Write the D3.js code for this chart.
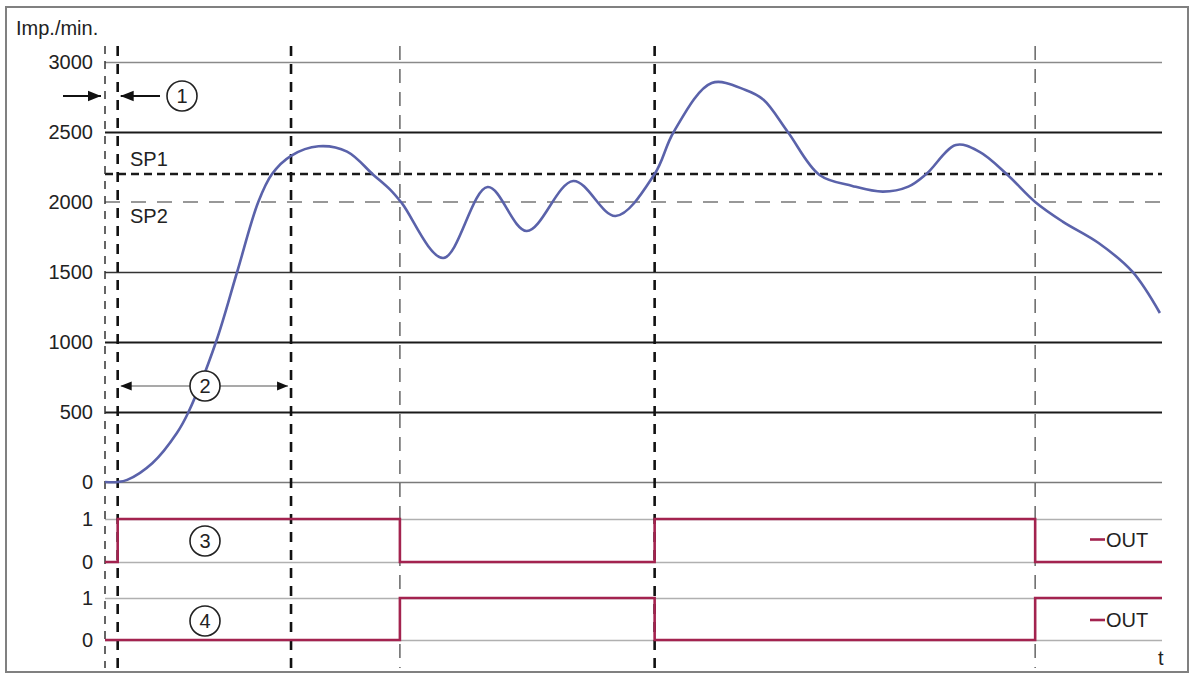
<!DOCTYPE html>
<html>
<head>
<meta charset="utf-8">
<script src="https://cdn.jsdelivr.net/npm/d3@7"></script>
<style>
    body { margin: 0; background: #fff; }
    text { font-family: "Liberation Sans", Arial, sans-serif; font-size: 20px; fill: #222; }
</style>
</head>
<body>
<svg id="chart" width="1193" height="676"></svg>
<script>
// speed curve (time in arbitrary units 0..100, impulses per minute)
const speedTime = [0, 1.2, 2.1, 4.5, 6.8, 7.9, 10.5, 12.5, 14.5, 15.8, 17.6, 20.2, 22.9, 25.4, 27.0, 28.1, 32.0,
    36.2, 39.9, 44.3, 48.3, 52.0, 53.8, 57.4, 60.6, 62.3, 64.6, 67.6, 70.7, 73.6, 76.0, 77.7, 80.5,
    82.7, 85.3, 88.0, 90.6, 94.0, 97.2, 99.8];
const speedValues = [0, 0, 15, 136, 350, 500, 1000, 1500, 2000, 2200, 2330, 2398, 2360, 2193, 2086, 1990, 1600,
    2107, 1793, 2150, 1900, 2200, 2500, 2850, 2800, 2730, 2500, 2193, 2115, 2074, 2110, 2200, 2407,
    2360, 2200, 2000, 1860, 1707, 1502, 1207];

const speedTicks = [0, 500, 1000, 1500, 2000, 2500, 3000];
const setpoints = [2200, 2000];
const setpointLabels = ["SP1", "SP2"];

const thickMarkers = [1.2, 17.6, 52.0];
const thinMarkers = [0, 27.9, 88.0];

// digital outputs: time of each edge and the state after it
const out3Time = [0, 1.2, 27.9, 52.0, 88.0, 100];
const out3State = [0, 1, 0, 1, 0, 0];
const out4Time = [0, 27.9, 52.0, 88.0, 100];
const out4State = [0, 1, 0, 1, 1];

const svg = d3.select("#chart");

const x = d3.scaleLinear().domain([0, 100]).range([105, 1162]);
const y = d3.scaleLinear().domain([0, 3000]).range([482, 62]);
const y3 = d3.scaleLinear().domain([0, 1]).range([562, 519]);
const y4 = d3.scaleLinear().domain([0, 1]).range([640, 598]);

const GRID_STYLE = {
    0: { stroke: "#7a7a7a", width: 1.6 },
    500: { stroke: "#1a1a1a", width: 2.2 },
    1000: { stroke: "#1a1a1a", width: 2.2 },
    1500: { stroke: "#333", width: 1.6 },
    2000: { stroke: "none", width: 0 },
    2500: { stroke: "#1a1a1a", width: 2.2 },
    3000: { stroke: "#8a8a8a", width: 1.6 }
};

const defs = svg.append("defs");
const addArrow = (id, size) => defs.append("marker")
    .attr("id", id)
    .attr("viewBox", "0 0 10 10")
    .attr("refX", 10)
    .attr("refY", 5)
    .attr("markerUnits", "userSpaceOnUse")
    .attr("markerWidth", size)
    .attr("markerHeight", size)
    .attr("orient", "auto-start-reverse")
    .append("path")
    .attr("d", "M0,1 L10,5 L0,9 Z")
    .attr("fill", "#111");
addArrow("arrow", 13);
addArrow("arrowSmall", 11);

// frame
svg.append("rect")
    .attr("x", 6).attr("y", 7)
    .attr("width", 1182).attr("height", 665)
    .attr("fill", "none")
    .attr("stroke", "#808080")
    .attr("stroke-width", 2);

// speed axis + gridlines
const yAxis = svg.append("g")
    .attr("transform", `translate(${ x(0) },0)`)
    .call(d3.axisLeft(y)
        .tickValues(speedTicks)
        .tickSizeInner(-(x.range()[1] - x.range()[0]))
        .tickSizeOuter(0)
        .tickPadding(12)
        .tickFormat(d3.format("d")));
yAxis.select(".domain").remove();
yAxis.selectAll(".tick line")
    .attr("stroke", d => GRID_STYLE[d].stroke)
    .attr("stroke-width", d => GRID_STYLE[d].width);
yAxis.selectAll(".tick text")
    .attr("font-size", null)
    .attr("font-family", null);

// digital panels
const drawBinaryAxis = (scale) => {
    const g = svg.append("g")
        .attr("transform", `translate(${ x(0) },0)`)
        .call(d3.axisLeft(scale)
            .tickValues([0, 1])
            .tickSizeInner(-(x.range()[1] - x.range()[0]))
            .tickSizeOuter(0)
            .tickPadding(12)
            .tickFormat(d3.format("d")));
    g.select(".domain").remove();
    g.selectAll(".tick line").attr("stroke", "#b0b0b0").attr("stroke-width", 1.3);
    g.selectAll(".tick text").attr("font-size", null).attr("font-family", null);
};
drawBinaryAxis(y3);
drawBinaryAxis(y4);

// setpoint lines
svg.append("line")
    .attr("x1", x(0)).attr("x2", x(100))
    .attr("y1", y(setpoints[0])).attr("y2", y(setpoints[0]))
    .attr("stroke", "#1a1a1a").attr("stroke-width", 2.6)
    .attr("stroke-dasharray", "8,5");
svg.append("line")
    .attr("x1", x(0)).attr("x2", x(100))
    .attr("y1", y(setpoints[1])).attr("y2", y(setpoints[1]))
    .attr("stroke", "#777").attr("stroke-width", 1.6)
    .attr("stroke-dasharray", "15,11");
svg.append("text").attr("x", 130).attr("y", y(setpoints[0]) - 8).text(setpointLabels[0]);
svg.append("text").attr("x", 130).attr("y", y(setpoints[1]) + 21).text(setpointLabels[1]);

// time markers
svg.selectAll(".marker-thin")
    .data(thinMarkers)
    .join("line")
    .attr("class", "marker-thin")
    .attr("x1", d => x(d)).attr("x2", d => x(d))
    .attr("y1", 46).attr("y2", 668)
    .attr("stroke", (d, i) => i === 0 ? "#333" : "#666")
    .attr("stroke-width", 1.5)
    .attr("stroke-dasharray", (d, i) => i === 0 ? "8,7" : "14,9");
svg.selectAll(".marker-thick")
    .data(thickMarkers)
    .join("line")
    .attr("class", "marker-thick")
    .attr("x1", d => x(d)).attr("x2", d => x(d))
    .attr("y1", 46).attr("y2", 668)
    .attr("stroke", "#111")
    .attr("stroke-width", 2.6)
    .attr("stroke-dasharray", "10,8");

// speed curve
const speedLine = d3.line()
    .x((d, i) => x(speedTime[i]))
    .y(d => y(d))
    .curve(d3.curveCatmullRom.alpha(0.5));
svg.append("path")
    .attr("d", speedLine(speedValues))
    .attr("fill", "none")
    .attr("stroke", "#5a62aa")
    .attr("stroke-width", 2.6);

// digital outputs
const drawSignal = (times, states, scale) => svg.append("path")
    .attr("d", d3.line()
        .x((d, i) => x(times[i]))
        .y(d => scale(d))
        .curve(d3.curveStepAfter)(states))
    .attr("fill", "none")
    .attr("stroke", "#a3234f")
    .attr("stroke-width", 2.6);
drawSignal(out3Time, out3State, y3);
drawSignal(out4Time, out4State, y4);

// legends
const drawOutLabel = (yPos) => {
    svg.append("line")
        .attr("x1", 1090).attr("x2", 1105)
        .attr("y1", yPos).attr("y2", yPos)
        .attr("stroke", "#a3234f").attr("stroke-width", 2.6);
    svg.append("text").attr("x", 1106).attr("y", yPos + 7).text("OUT");
};
drawOutLabel((y3(0) + y3(1)) / 2 - 1);
drawOutLabel((y4(0) + y4(1)) / 2 + 1);

svg.append("text").attr("x", 16).attr("y", 35).text("Imp./min.");
svg.append("text").attr("x", 1158).attr("y", 665).text("t");

// callouts
const callout = (cx, cy, label) => {
    svg.append("circle")
        .attr("cx", cx).attr("cy", cy).attr("r", 15)
        .attr("fill", "#fff").attr("stroke", "#222").attr("stroke-width", 1.6);
    svg.append("text")
        .attr("x", cx).attr("y", cy + 7)
        .attr("text-anchor", "middle")
        .text(label);
};

svg.append("line")
    .attr("x1", 63).attr("x2", x(0) - 4)
    .attr("y1", 96).attr("y2", 96)
    .attr("stroke", "#111").attr("stroke-width", 2)
    .attr("marker-end", "url(#arrow)");
svg.append("line")
    .attr("x1", 160).attr("x2", x(thickMarkers[0]) + 3)
    .attr("y1", 96).attr("y2", 96)
    .attr("stroke", "#111").attr("stroke-width", 2)
    .attr("marker-end", "url(#arrow)");
callout(182, 96, "1");

svg.append("line")
    .attr("x1", x(thickMarkers[0]) + 3).attr("x2", x(thickMarkers[1]) - 3)
    .attr("y1", 386).attr("y2", 386)
    .attr("stroke", "#555").attr("stroke-width", 1.2)
    .attr("marker-start", "url(#arrowSmall)")
    .attr("marker-end", "url(#arrowSmall)");
callout(205, 386, "2");

callout(205, 541, "3");
callout(205, 621, "4");
</script>
</body>
</html>
